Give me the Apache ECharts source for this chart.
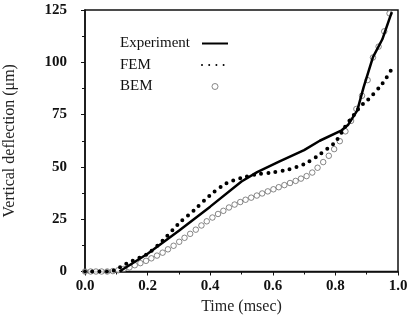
<!DOCTYPE html>
<html>
<head>
<meta charset="utf-8">
<script src="https://cdn.jsdelivr.net/npm/echarts@6/dist/echarts.min.js"></script>
<style>
  html, body { margin: 0; padding: 0; background: #fff; }
  #chart { width: 408px; height: 316px; }
</style>
</head>
<body>
<div id="chart"></div>
<script>
// time in msec, deflection in micrometres
let expTime = [0.11, 0.2, 0.3, 0.4, 0.5, 0.55, 0.62, 0.7, 0.75, 0.82, 0.84, 0.87, 0.89, 0.92, 0.95, 0.98];
let expDefl = [0, 8.5, 19.5, 31, 43, 47.5, 52.5, 58, 62.5, 67.5, 70, 77, 88, 102.5, 111, 124];

let femTime = [0, 0.08, 0.1, 0.12, 0.15, 0.2, 0.25, 0.3, 0.35, 0.4, 0.45, 0.5, 0.55, 0.6, 0.65, 0.7, 0.75, 0.8, 0.83, 0.86, 0.88, 0.9, 0.95, 0.985];
let femDefl = [0, 0, 1, 2.8, 5, 8.5, 15, 23, 29.5, 36.5, 42, 44.7, 46.5, 47.4, 48.8, 51.3, 56, 62, 69, 75, 79, 81.5, 89.8, 98];

let bemTime = [0, 0.018, 0.035, 0.053, 0.071, 0.089, 0.106, 0.124, 0.142, 0.159,
  0.177, 0.195, 0.212, 0.23, 0.248, 0.265, 0.283, 0.301, 0.318, 0.336,
  0.354, 0.372, 0.389, 0.407, 0.425, 0.442, 0.46, 0.478, 0.496, 0.513,
  0.531, 0.549, 0.566, 0.584, 0.602, 0.619, 0.637, 0.655, 0.673, 0.69,
  0.708, 0.726, 0.743, 0.761, 0.779, 0.796, 0.814, 0.832, 0.85, 0.867,
  0.885, 0.903, 0.92, 0.938, 0.956, 0.973];
let bemDefl = [0, 0, 0, 0, 0, 0.2, 0.6, 1.2, 2, 3,
  4, 5.1, 6.3, 7.6, 9, 10.6, 12.3, 14.2, 16.1, 18,
  20, 22, 24, 25.8, 27.5, 29, 30.6, 32, 33.2, 34.3,
  35.3, 36.3, 37.3, 38.3, 39.3, 40.3, 41.3, 42.3, 43.3, 44.4,
  45.6, 47.3, 49.6, 52.3, 55.3, 58.5, 62.3, 67, 72, 77.7,
  84, 91.5, 102.3, 107.5, 114.8, 123.4];

let xTicks = [0, 0.2, 0.4, 0.6, 0.8, 1.0];
let yTicks = [0, 25, 50, 75, 100, 125];

function zip(a, b) {
  return a.map(function (v, i) { return [v, b[i]]; });
}

let font = 'Liberation Serif';
let myChart = echarts.init(document.getElementById('chart'));

// hide the marker echarts puts in the middle of line legend icons
let noMarker = { color: 'transparent', borderWidth: 0 };
let bemStyle = { color: '#fff', borderColor: '#444', borderWidth: 0.8 };

let option = {
  animation: false,
  backgroundColor: '#fff',
  grid: {
    left: 85, right: 10, top: 10, bottom: 44.5,
    outerBoundsMode: 'none',
    show: true, borderColor: '#111', borderWidth: 1.5
  },
  legend: {
    orient: 'vertical',
    left: 115, top: 31,
    align: 'right',
    itemWidth: 26, itemHeight: 6,
    itemGap: 6.5,
    formatter: function (name) { return '{t|' + name + '}'; },
    textStyle: {
      fontFamily: font, fontSize: 15, color: '#111',
      rich: { t: { width: 77, align: 'left', fontFamily: font, fontSize: 15, color: '#111' } }
    },
    data: [
      { name: 'Experiment', itemStyle: noMarker },
      { name: 'FEM', itemStyle: noMarker },
      { name: 'BEM', itemStyle: bemStyle }
    ]
  },
  xAxis: {
    type: 'value',
    min: xTicks[0], max: xTicks[xTicks.length - 1], interval: 0.2,
    name: 'Time (msec)', nameLocation: 'middle', nameGap: 26,
    nameTextStyle: { fontFamily: font, fontSize: 16, color: '#222' },
    axisLine: { lineStyle: { color: '#111', width: 1.5 } },
    axisTick: { length: 4, lineStyle: { color: '#111' } },
    minorTick: { show: true, splitNumber: 2, length: 3, lineStyle: { color: '#111' } },
    splitLine: { show: false },
    axisLabel: {
      margin: 7, fontFamily: font, fontSize: 15, fontWeight: 'bold', color: '#111',
      formatter: function (v) { return v.toFixed(1); }
    }
  },
  yAxis: {
    type: 'value',
    min: yTicks[0], max: yTicks[yTicks.length - 1], interval: 25,
    name: 'Vertical deflection (μm)', nameLocation: 'middle', nameGap: 67,
    nameTextStyle: { fontFamily: font, fontSize: 16, color: '#222' },
    axisLine: { show: true, lineStyle: { color: '#111', width: 1.5 } },
    axisTick: { show: true, length: 4, lineStyle: { color: '#111' } },
    minorTick: { show: true, splitNumber: 2, length: 3, lineStyle: { color: '#111' } },
    splitLine: { show: false },
    axisLabel: { margin: 18, fontFamily: font, fontSize: 15, fontWeight: 'bold', color: '#111' }
  },
  series: [{
    name: 'Experiment',
    type: 'line',
    data: zip(expTime, expDefl),
    symbol: 'none',
    clip: false,
    lineStyle: { color: '#000', width: 2.5 },
    itemStyle: { color: '#000' },
    z: 3
  }, {
    name: 'FEM',
    type: 'line',
    data: zip(femTime, femDefl),
    symbol: 'none',
    smooth: 0.3,
    clip: false,
    lineStyle: { color: '#000', width: 4, type: [0, 7.2], cap: 'round' },
    itemStyle: { color: '#000' },
    z: 2
  }, {
    name: 'BEM',
    type: 'scatter',
    data: zip(bemTime, bemDefl),
    symbol: 'circle',
    symbolSize: 5.5,
    clip: false,
    itemStyle: bemStyle,
    z: 1
  }]
};

myChart.setOption(option);
</script>
</body>
</html>
